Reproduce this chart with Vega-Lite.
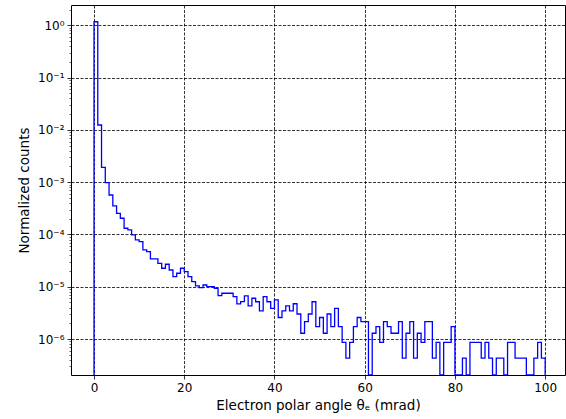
{
  "$schema": "https://vega.github.io/schema/vega-lite/v6.json",
  "width": 494,
  "height": 370,
  "autosize": {"type": "none"},
  "padding": {"left": 71, "top": 5, "right": 1, "bottom": 44},
  "background": "white",
  "config": {
    "view": {"stroke": "#000000", "strokeWidth": 1},
    "axis": {"labelFont": "DejaVu Sans", "titleFont": "DejaVu Sans", "labelColor": "#000000", "titleColor": "#000000", "tickColor": "#000000", "titleFontWeight": "normal"}
  },
  "data": {"values": [
    {"i": 0, "x": 0, "v": 0},
    {"i": 1, "x": 0, "v": 1.172},
    {"i": 2, "x": 0.8333, "v": 0.01241},
    {"i": 3, "x": 1.6667, "v": 0.001927},
    {"i": 4, "x": 2.5, "v": 0.000978},
    {"i": 5, "x": 3.3333, "v": 0.000569},
    {"i": 6, "x": 4.1667, "v": 0.000351},
    {"i": 7, "x": 5, "v": 0.000254},
    {"i": 8, "x": 5.8333, "v": 0.000204},
    {"i": 9, "x": 6.6667, "v": 0.0001315},
    {"i": 10, "x": 7.5, "v": 0.000122},
    {"i": 11, "x": 8.3333, "v": 9.79e-5},
    {"i": 12, "x": 9.1667, "v": 7.85e-5},
    {"i": 13, "x": 10, "v": 7.28e-5},
    {"i": 14, "x": 10.8333, "v": 5.06e-5},
    {"i": 15, "x": 11.6667, "v": 4.69e-5},
    {"i": 16, "x": 12.5, "v": 3.4e-5},
    {"i": 17, "x": 13.3333, "v": 3.4e-5},
    {"i": 18, "x": 14.1667, "v": 2.81e-5},
    {"i": 19, "x": 15, "v": 2.26e-5},
    {"i": 20, "x": 15.8333, "v": 2.69e-5},
    {"i": 21, "x": 16.6667, "v": 2.09e-5},
    {"i": 22, "x": 17.5, "v": 1.56e-5},
    {"i": 23, "x": 18.3333, "v": 1.81e-5},
    {"i": 24, "x": 19.1667, "v": 2.26e-5},
    {"i": 25, "x": 20, "v": 1.95e-5},
    {"i": 26, "x": 20.8333, "v": 1.56e-5},
    {"i": 27, "x": 21.6667, "v": 1.25e-5},
    {"i": 28, "x": 22.5, "v": 1.035e-5},
    {"i": 29, "x": 23.3333, "v": 9.61e-6},
    {"i": 30, "x": 24.1667, "v": 1.08e-5},
    {"i": 31, "x": 25, "v": 1.004e-5},
    {"i": 32, "x": 25.8333, "v": 1.004e-5},
    {"i": 33, "x": 26.6667, "v": 9.36e-6},
    {"i": 34, "x": 27.5, "v": 6.76e-6},
    {"i": 35, "x": 28.3333, "v": 7.51e-6},
    {"i": 36, "x": 29.1667, "v": 7.51e-6},
    {"i": 37, "x": 30, "v": 7.51e-6},
    {"i": 38, "x": 30.8333, "v": 6.47e-6},
    {"i": 39, "x": 31.6667, "v": 4.69e-6},
    {"i": 40, "x": 32.5, "v": 5.19e-6},
    {"i": 41, "x": 33.3333, "v": 6.67e-6},
    {"i": 42, "x": 34.1667, "v": 4.3e-6},
    {"i": 43, "x": 35, "v": 6.03e-6},
    {"i": 44, "x": 35.8333, "v": 5.16e-6},
    {"i": 45, "x": 36.6667, "v": 3.44e-6},
    {"i": 46, "x": 37.5, "v": 6.45e-6},
    {"i": 47, "x": 38.3333, "v": 5.16e-6},
    {"i": 48, "x": 39.1667, "v": 3.87e-6},
    {"i": 49, "x": 40, "v": 5.59e-6},
    {"i": 50, "x": 40.8333, "v": 2.58e-6},
    {"i": 51, "x": 41.6667, "v": 3.44e-6},
    {"i": 52, "x": 42.5, "v": 4.3e-6},
    {"i": 53, "x": 43.3333, "v": 3.44e-6},
    {"i": 54, "x": 44.1667, "v": 4.73e-6},
    {"i": 55, "x": 45, "v": 3.01e-6},
    {"i": 56, "x": 45.8333, "v": 1.29e-6},
    {"i": 57, "x": 46.6667, "v": 2.15e-6},
    {"i": 58, "x": 47.5, "v": 3.01e-6},
    {"i": 59, "x": 48.3333, "v": 5.16e-6},
    {"i": 60, "x": 49.1667, "v": 1.72e-6},
    {"i": 61, "x": 50, "v": 2.58e-6},
    {"i": 62, "x": 50.8333, "v": 1.29e-6},
    {"i": 63, "x": 51.6667, "v": 3.01e-6},
    {"i": 64, "x": 52.5, "v": 1.72e-6},
    {"i": 65, "x": 53.3333, "v": 3.87e-6},
    {"i": 66, "x": 54.1667, "v": 1.72e-6},
    {"i": 67, "x": 55, "v": 8.6e-7},
    {"i": 68, "x": 55.8333, "v": 4.3e-7},
    {"i": 69, "x": 56.6667, "v": 8.6e-7},
    {"i": 70, "x": 57.5, "v": 1.72e-6},
    {"i": 71, "x": 58.3333, "v": 2.58e-6},
    {"i": 72, "x": 59.1667, "v": 2.15e-6},
    {"i": 73, "x": 60, "v": 2.15e-6},
    {"i": 74, "x": 60.8333, "v": 0},
    {"i": 75, "x": 61.6667, "v": 1.29e-6},
    {"i": 76, "x": 62.5, "v": 1.72e-6},
    {"i": 77, "x": 63.3333, "v": 8.6e-7},
    {"i": 78, "x": 64.1667, "v": 2.15e-6},
    {"i": 79, "x": 65, "v": 1.72e-6},
    {"i": 80, "x": 65.8333, "v": 1.29e-6},
    {"i": 81, "x": 66.6667, "v": 1.29e-6},
    {"i": 82, "x": 67.5, "v": 2.15e-6},
    {"i": 83, "x": 68.3333, "v": 4.3e-7},
    {"i": 84, "x": 69.1667, "v": 1.29e-6},
    {"i": 85, "x": 70, "v": 2.15e-6},
    {"i": 86, "x": 70.8333, "v": 4.3e-7},
    {"i": 87, "x": 71.6667, "v": 1.29e-6},
    {"i": 88, "x": 72.5, "v": 8.6e-7},
    {"i": 89, "x": 73.3333, "v": 2.15e-6},
    {"i": 90, "x": 74.1667, "v": 2.15e-6},
    {"i": 91, "x": 75, "v": 4.3e-7},
    {"i": 92, "x": 75.8333, "v": 8.6e-7},
    {"i": 93, "x": 76.6667, "v": 0},
    {"i": 94, "x": 77.5, "v": 8.6e-7},
    {"i": 95, "x": 78.3333, "v": 8.6e-7},
    {"i": 96, "x": 79.1667, "v": 1.72e-6},
    {"i": 97, "x": 80, "v": 0},
    {"i": 98, "x": 80.8333, "v": 0},
    {"i": 99, "x": 81.6667, "v": 4.3e-7},
    {"i": 100, "x": 82.5, "v": 0},
    {"i": 101, "x": 83.3333, "v": 8.6e-7},
    {"i": 102, "x": 84.1667, "v": 8.6e-7},
    {"i": 103, "x": 85, "v": 8.6e-7},
    {"i": 104, "x": 85.8333, "v": 4.3e-7},
    {"i": 105, "x": 86.6667, "v": 8.6e-7},
    {"i": 106, "x": 87.5, "v": 4.3e-7},
    {"i": 107, "x": 88.3333, "v": 0},
    {"i": 108, "x": 89.1667, "v": 4.3e-7},
    {"i": 109, "x": 90, "v": 4.3e-7},
    {"i": 110, "x": 90.8333, "v": 0},
    {"i": 111, "x": 91.6667, "v": 8.6e-7},
    {"i": 112, "x": 92.5, "v": 8.6e-7},
    {"i": 113, "x": 93.3333, "v": 4.3e-7},
    {"i": 114, "x": 94.1667, "v": 4.3e-7},
    {"i": 115, "x": 95, "v": 4.3e-7},
    {"i": 116, "x": 95.8333, "v": 0},
    {"i": 117, "x": 96.6667, "v": 0},
    {"i": 118, "x": 97.5, "v": 4.3e-7},
    {"i": 119, "x": 98.3333, "v": 8.6e-7},
    {"i": 120, "x": 99.1667, "v": 4.3e-7},
    {"i": 121, "x": 100, "v": 0}
  ]},
  "layer": [
    {
      "mark": {"type": "line", "interpolate": "step-after", "invalid": "show", "color": "#0000ff", "strokeWidth": 1.3, "clip": true},
      "encoding": {
        "x": {"field": "x", "type": "quantitative",
          "scale": {"domain": [-5.1, 104.4], "nice": false, "zero": false},
          "axis": {"values": [0, 20, 40, 60, 80, 100], "grid": true, "gridColor": "#000000", "gridDash": [3, 1.5], "gridWidth": 0.8, "gridOpacity": 1,
            "title": "Electron polar angle θₑ (mrad)", "titleFontSize": 13.5, "labelFontSize": 12, "tickSize": 4, "tickWidth": 0.8, "domain": false, "labelPadding": 3, "titlePadding": 5, "labelFlush": false}},
        "y": {"field": "v", "type": "quantitative",
          "scale": {"type": "log", "domain": [2.05e-7, 2.45], "nice": false, "clamp": true},
          "axis": {"values": [1e-6, 1e-5, 1e-4, 1e-3, 1e-2, 1e-1, 1], "grid": true, "gridColor": "#000000", "gridDash": [3, 1.5], "gridWidth": 0.8, "gridOpacity": 1,
            "labelExpr": "datum.value > 0.5 ? '10⁰' : datum.value > 0.05 ? '10⁻¹' : datum.value > 0.005 ? '10⁻²' : datum.value > 0.0005 ? '10⁻³' : datum.value > 0.00005 ? '10⁻⁴' : datum.value > 0.000005 ? '10⁻⁵' : '10⁻⁶'",
            "title": "Normalized counts", "titleFontSize": 13.5, "labelFontSize": 12, "tickSize": 4, "tickWidth": 0.8, "domain": false, "labelPadding": 3, "titlePadding": 6, "labelFlush": false}},
        "order": {"field": "i", "type": "quantitative"}
      }
    },
    {
      "mark": {"type": "line", "opacity": 0, "invalid": "show"},
      "encoding": {
        "x": {"field": "x", "type": "quantitative"},
        "y": {"field": "v", "type": "quantitative",
          "axis": {"orient": "left", "values": [3e-7, 4e-7, 5e-7, 6e-7, 7e-7, 8e-7, 9e-7, 2e-6, 3e-6, 4e-6, 5e-6, 6e-6, 7e-6, 8e-6, 9e-6, 2e-5, 3e-5, 4e-5, 5e-5, 6e-5, 7e-5, 8e-5, 9e-5, 2e-4, 3e-4, 4e-4, 5e-4, 6e-4, 7e-4, 8e-4, 9e-4, 2e-3, 3e-3, 4e-3, 5e-3, 6e-3, 7e-3, 8e-3, 9e-3, 2e-2, 3e-2, 4e-2, 5e-2, 6e-2, 7e-2, 8e-2, 9e-2, 0.2, 0.3, 0.4, 0.5, 0.6, 0.7, 0.8, 0.9, 2],
            "labels": false, "grid": false, "domain": false, "title": null, "tickSize": 2, "tickWidth": 0.6}},
        "order": {"field": "i", "type": "quantitative"}
      }
    }
  ],
  "resolve": {"axis": {"y": "independent"}}
}
